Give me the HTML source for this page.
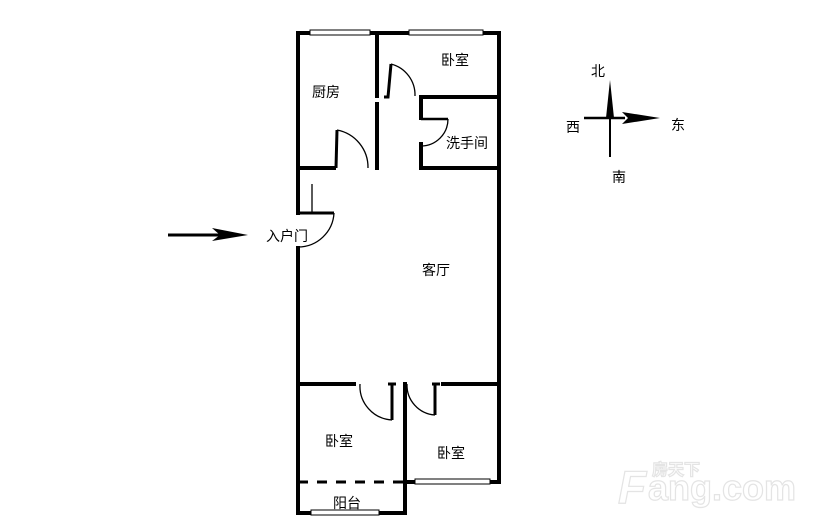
<!DOCTYPE html>
<html><head><meta charset="utf-8"><style>
html,body{margin:0;padding:0;background:#fff;}
svg text{font-family:"Liberation Sans","Noto Sans CJK SC",sans-serif;fill:#000;}
</style></head><body>
<svg width="814" height="527" viewBox="0 0 814 527" xmlns="http://www.w3.org/2000/svg">
<rect width="814" height="527" fill="#fff"/>
<g stroke="#000" stroke-width="4" fill="none" stroke-linecap="square">
<line x1="298" y1="33" x2="298" y2="213"/>
<line x1="298" y1="248" x2="298" y2="513"/>
<line x1="298" y1="33" x2="499" y2="33"/>
<line x1="499" y1="33" x2="499" y2="482"/>
<line x1="377" y1="33" x2="377" y2="96"/>
<line x1="377" y1="104" x2="377" y2="168"/>
<line x1="298" y1="168" x2="334" y2="168"/>
<line x1="421" y1="97" x2="499" y2="97"/>
<line x1="421" y1="97" x2="421" y2="118"/>
<line x1="421" y1="144" x2="421" y2="168"/>
<line x1="421" y1="168" x2="499" y2="168"/>
<line x1="298" y1="384" x2="354" y2="384"/>
<line x1="443" y1="384" x2="499" y2="384"/>
<line x1="405" y1="384" x2="405" y2="513"/>
<line x1="298" y1="513" x2="405" y2="513"/>
<line x1="405" y1="482" x2="499" y2="482"/>
</g>
<g stroke="#000" stroke-width="3" fill="none">
<line x1="298" y1="213" x2="334" y2="213"/>
<line x1="298" y1="482" x2="405" y2="482" stroke-dasharray="10,9"/>
<polyline points="336,168 337,130"/>
<polyline points="384,97 388,97 391,64"/>
<line x1="421" y1="119" x2="448" y2="119" stroke-width="2.5"/>
<line x1="392" y1="384" x2="392" y2="420"/>
<line x1="435" y1="384" x2="435" y2="415"/>
<line x1="388" y1="384" x2="396" y2="384"/>
<line x1="432" y1="384" x2="440" y2="384"/>
</g>
<g stroke="#000" stroke-width="1.3" fill="none">
<line x1="312" y1="184" x2="312" y2="213"/>
<path d="M334,213 A36,36 0 0 1 298,247"/>
<path d="M337,130 A38,38 0 0 1 368,168"/>
<path d="M391,64 A32,32 0 0 1 415,96"/>
<path d="M448,119 A27,27 0 0 1 421,146"/>
<path d="M360,384 A34,34 0 0 0 392,420"/>
<path d="M407,384 A30,30 0 0 0 435,415"/>
</g>
<g fill="#fff" stroke="#000" stroke-width="1">
<rect x="310" y="30" width="60" height="5"/>
<rect x="409" y="30" width="74" height="5"/>
<rect x="415" y="479" width="75" height="5"/>
<rect x="311" y="510" width="68" height="5"/>
</g>
<line x1="168" y1="235" x2="225" y2="235" stroke="#000" stroke-width="3"/>
<polygon points="212,228 248,235 212,241 220,235" fill="#000"/>
<line x1="610" y1="90" x2="610" y2="157" stroke="#000" stroke-width="2"/>
<polygon points="610,80 606,118 614,118" fill="#000"/>
<line x1="584" y1="118" x2="625" y2="118" stroke="#000" stroke-width="2.5"/>
<polygon points="622,112 660,118 622,124 628,118" fill="#000"/>
<g font-size="14">
<text x="591" y="76">北</text>
<text x="566" y="132">西</text>
<text x="671" y="130">东</text>
<text x="612" y="182">南</text>
<text x="312" y="97">厨房</text>
<text x="441" y="65">卧室</text>
<text x="446" y="148">洗手间</text>
<text x="422" y="275">客厅</text>
<text x="325" y="446">卧室</text>
<text x="437" y="458">卧室</text>
<text x="333" y="508">阳台</text>
<text x="266" y="241">入户门</text>
</g>
<g stroke="#e4e4e4" stroke-width="1.2" font-weight="bold">
<text x="618" y="503" font-size="46" font-style="italic" style="fill:#fff">F</text>
<text x="648" y="500" font-size="36" style="fill:#fff">ang.com</text>
<text x="652" y="475" font-size="16" style="fill:#fff">房天下</text>
</g>
</svg>
</body></html>
